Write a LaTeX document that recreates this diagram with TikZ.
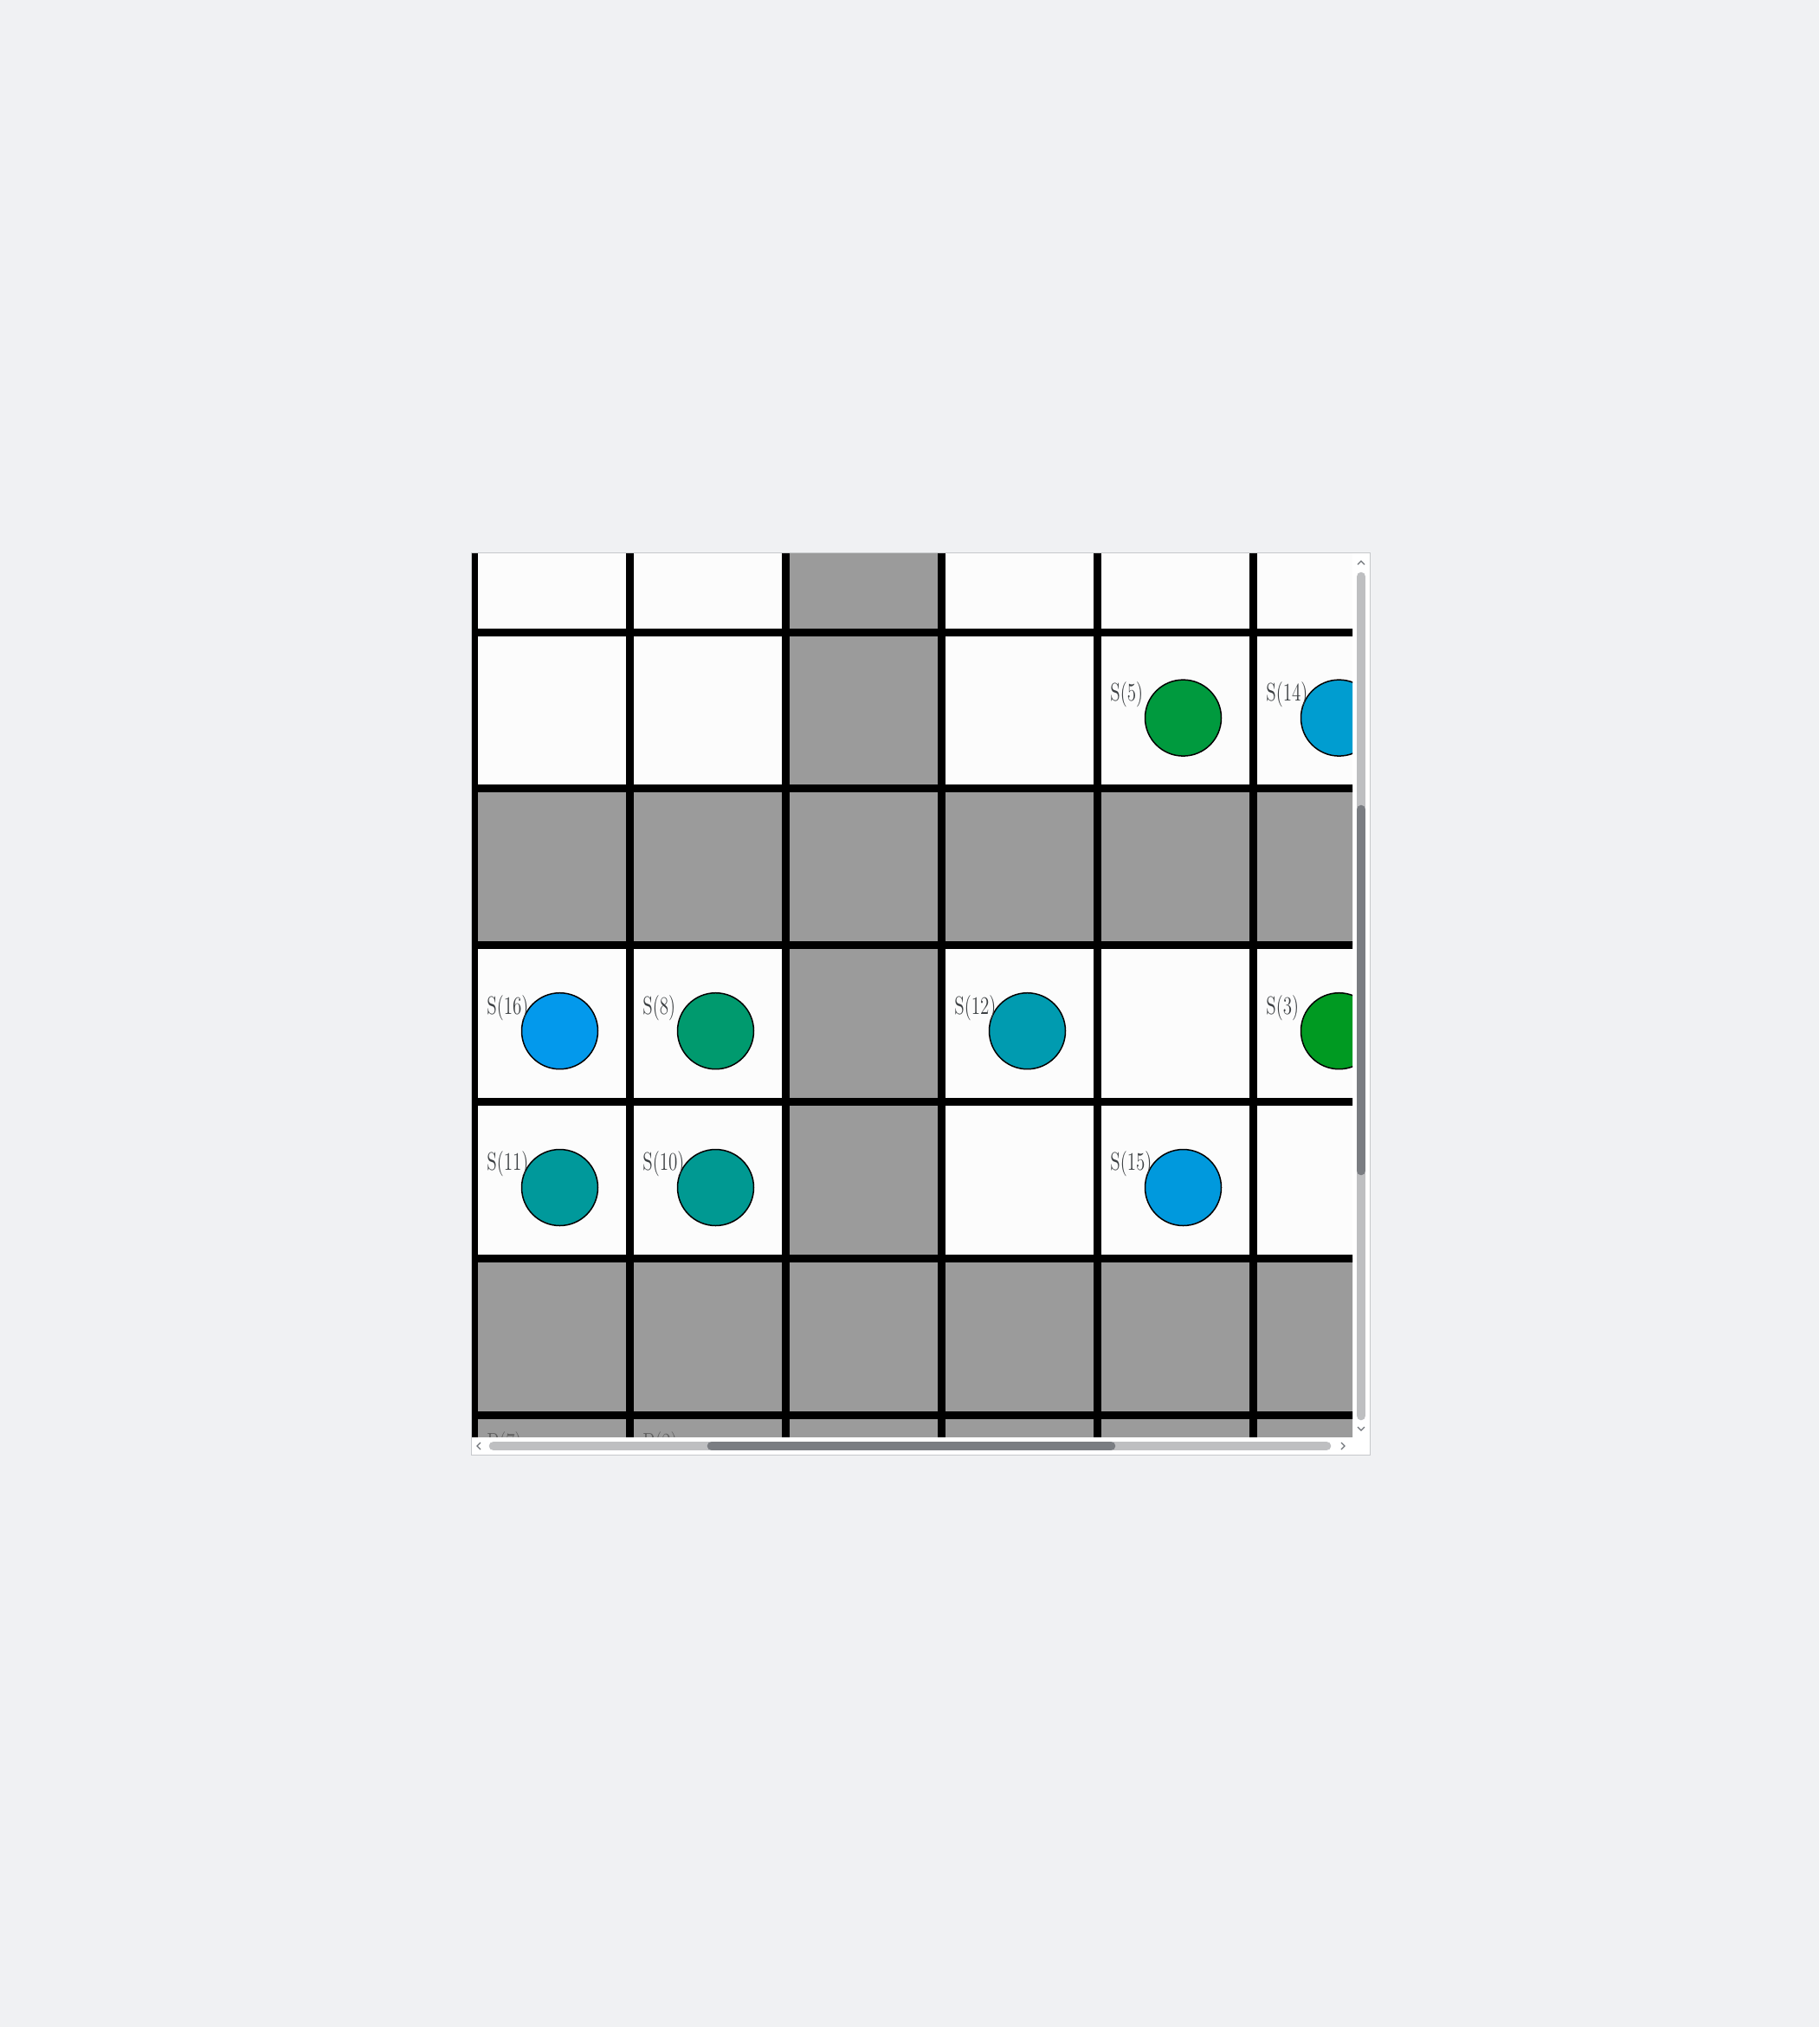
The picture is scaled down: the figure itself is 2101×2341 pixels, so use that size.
\documentclass[tikz,border=0pt]{standalone}
\usepackage{fontspec}
\usepackage{graphicx}
\usetikzlibrary{positioning}
\definecolor{pageBg}{HTML}{F0F1F3}
\definecolor{frameLine}{HTML}{C6C8CB}
\definecolor{cellWhite}{HTML}{FCFCFC}
\definecolor{cellGray}{HTML}{9B9B9B}
\definecolor{tagText}{HTML}{3C4043}
\definecolor{barTrack}{HTML}{BEBFC1}
\definecolor{barThumb}{HTML}{7A7D82}
\definecolor{barArrow}{HTML}{6F7378}
\definecolor{tokGreen}{HTML}{009A3E}
\definecolor{tokSky}{HTML}{009DD0}
\definecolor{tokBlue}{HTML}{0399EC}
\definecolor{tokJade}{HTML}{009A6E}
\definecolor{tokCyan}{HTML}{009BB0}
\definecolor{tokLeaf}{HTML}{009A22}
\definecolor{tokTeal}{HTML}{00999B}
\definecolor{tokSea}{HTML}{009992}
\definecolor{tokAzure}{HTML}{0099DD}
\newcommand{\narrowtag}[1]{\scalebox{0.72}[1]{#1}}

\begin{document}
\begin{tikzpicture}[
      x=0.5pt,y=-0.5pt,
      wall/.style={line width=4.5pt,black},
      token/.style={circle,draw=black,line width=0.75pt,minimum size=44pt,inner sep=0pt},
      tag/.style={anchor=base west,inner sep=0pt,text=tagText,font=\fontsize{14.6}{17}\selectfont},
      bar/.style={line width=5.3pt,line cap=round},
      chevron/.style={barArrow,line width=0.6pt}
    ]
    \fill[pageBg] (0,0) rectangle (2101,2341);
    \useasboundingbox (0,0) rectangle (2101,2341);
    \draw[frameLine,line width=0.5pt,fill=white] (544,638) rectangle (1582,1680);
    % board, clipped to the viewport
    \begin{scope}
      \clip (545,639) rectangle (1562,1659);
      \fill[cellWhite] (545,639) rectangle (1562,1659);
      \foreach \r in {2,5,6}
        \fill[cellGray] (500,{730+180.8*(\r-1)}) rectangle (1700,{730+180.8*\r});
      \fill[cellGray] (907.5,500) rectangle (1087.5,1700);
      \foreach \k in {0,...,6}
        \draw[wall] ({547.5+180*\k},500) -- ({547.5+180*\k},1700);
      \foreach \j in {-1,...,5}
        \draw[wall] (500,{730+180.8*\j}) -- (1700,{730+180.8*\j});
      \foreach \n/\c/\r/\col in {5/4/1/tokGreen,14/5/1/tokSky,16/0/3/tokBlue,8/1/3/tokJade,12/3/3/tokCyan,3/5/3/tokLeaf,11/0/4/tokTeal,10/1/4/tokSea,15/4/4/tokAzure}{
        \node[token,fill=\col] (s\n) at ({646.5+180*\c},{829.1+180.8*(\r-1)}) {};
        \node[tag] (t\n) at ({562+180*\c},{730+180.8*(\r-1)+79.5}) {\narrowtag{S(\n)}};
      }
      \node[tag,text=black!62] (p7) at (562,1675) {\narrowtag{P(7)}};
      \node[tag,text=black!62] (p2) at (742,1675) {\narrowtag{P(2)}};
    \end{scope}
    % scrollbars
    \draw[bar,barTrack] (1572,666) -- (1572,1635);
    \draw[bar,barThumb] (1572,935) -- (1572,1352);
    \draw[bar,barTrack] (570,1670) -- (1532,1670);
    \draw[bar,barThumb] (822,1670) -- (1283,1670);
    \draw[chevron] (1568,652) -- (1572,648) -- (1576,652);
    \draw[chevron] (1568,1648) -- (1572,1652) -- (1576,1648);
    \draw[chevron] (555,1666) -- (551,1670) -- (555,1674);
    \draw[chevron] (1549,1666) -- (1553,1670) -- (1549,1674);
  \end{tikzpicture}
\end{document}
